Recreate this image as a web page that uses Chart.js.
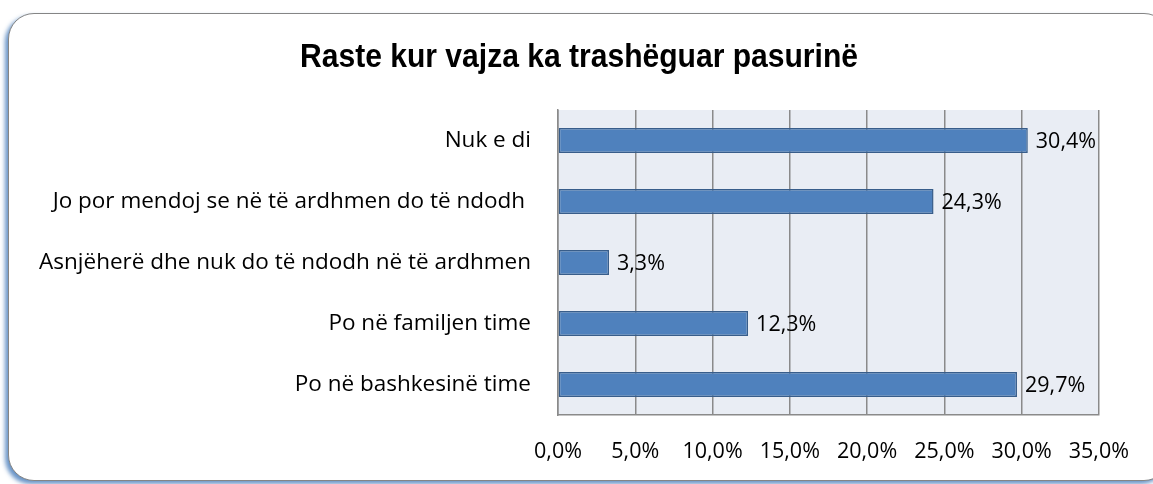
<!DOCTYPE html>
<html>
<head>
<meta charset="utf-8">
<script src="https://cdn.jsdelivr.net/npm/chart.js@4"></script>
<style>
  html, body { margin: 0; padding: 0; background: #fff; }
  #wrap { position: relative; width: 1153px; height: 484px; overflow: hidden; }
  #card {
    position: absolute; left: 8px; top: 13px; width: 1160px; height: 466px;
    border: 1.5px solid #858585; border-radius: 26px; background: #fff;
    box-shadow: -3px 3px 4px rgba(79,129,189,0.85);
  }
  #chart { position: absolute; left: 0; top: 0; }
</style>
</head>
<body>
<div id="wrap">
  <div id="card"></div>
  <canvas id="chart" width="1153" height="484"></canvas>
</div>
<script>
const chartTitle = "Raste kur vajza ka trashëguar pasurinë";
const categories = [
  "Nuk e di",
  "Jo por mendoj se në të ardhmen do të ndodh ",
  "Asnjëherë dhe nuk do të ndodh në të ardhmen",
  "Po në familjen time",
  "Po në bashkesinë time"
];
const values = [30.4, 24.3, 3.3, 12.3, 29.7];
const xTicks = [0, 5, 10, 15, 20, 25, 30, 35];

const catFont = { family: "'Open Sans', sans-serif", size: 22.5 };
const numFont = { family: "'Open Sans', sans-serif", size: 21.5 };
const pct = (v) => Number(v).toFixed(1).replace(".", ",") + "%";

// shaded plot area
const plotBg = {
  id: "plotBg",
  beforeDraw(chart) {
    const { ctx, chartArea: a } = chart;
    ctx.save();
    ctx.fillStyle = "#e9edf4";
    ctx.fillRect(a.left, a.top, a.right - a.left, a.bottom - a.top);
    ctx.restore();
  }
};

// narrow bold title (no Arial Narrow here, so squeeze Liberation Sans)
const narrowTitle = {
  id: "narrowTitle",
  afterDraw(chart) {
    const { ctx } = chart;
    ctx.save();
    ctx.font = "bold 33px 'Liberation Sans', Arial, sans-serif";
    ctx.fillStyle = "#000";
    ctx.textAlign = "center";
    ctx.textBaseline = "alphabetic";
    const w = ctx.measureText(chartTitle).width;
    ctx.translate(579, 67);
    ctx.scale(558 / w, 1);
    ctx.fillText(chartTitle, 0, 0);
    ctx.restore();
  }
};

// value labels right of bars
const barLabels = {
  id: "barLabels",
  afterDatasetsDraw(chart) {
    const { ctx } = chart;
    const meta = chart.getDatasetMeta(0);
    ctx.save();
    ctx.font = numFont.size + "px " + numFont.family;
    ctx.fillStyle = "#000";
    ctx.textBaseline = "middle";
    meta.data.forEach((bar, i) => {
      ctx.fillText(pct(values[i]), bar.x + 8, bar.y + 1);
    });
    ctx.restore();
  }
};

new Chart(document.getElementById("chart"), {
  type: "bar",
  data: {
    labels: categories,
    datasets: [{
      data: values,
      backgroundColor: "#4f81bd",
      borderColor: "#385d8a",
      borderWidth: 1.5,
      borderSkipped: false,
      barPercentage: 0.41,
      categoryPercentage: 1
    }]
  },
  options: {
    indexAxis: "y",
    responsive: false,
    animation: false,
    layout: { padding: { left: 0, right: 54, top: 110, bottom: 0 } },
    plugins: {
      legend: { display: false },
      tooltip: { enabled: false },
      title: { display: false }
    },
    scales: {
      x: {
        min: 0,
        max: 35,
        afterBuildTicks(scale) { scale.ticks = xTicks.map((v) => ({ value: v })); },
        afterFit(scale) { scale.height = 69; },
        ticks: { color: "#000", font: numFont, padding: 24, callback: pct },
        grid: { color: "#8a8a8a", lineWidth: 1.5, drawTicks: false },
        border: { color: "#8a8a8a", width: 1.5 }
      },
      y: {
        afterFit(scale) { scale.width = 558; },
        ticks: { color: "#000", font: catFont, padding: 27 },
        grid: { display: false, drawTicks: false },
        border: { color: "#8a8a8a", width: 1.5 }
      }
    }
  },
  plugins: [plotBg, barLabels, narrowTitle]
});
</script>
</body>
</html>
